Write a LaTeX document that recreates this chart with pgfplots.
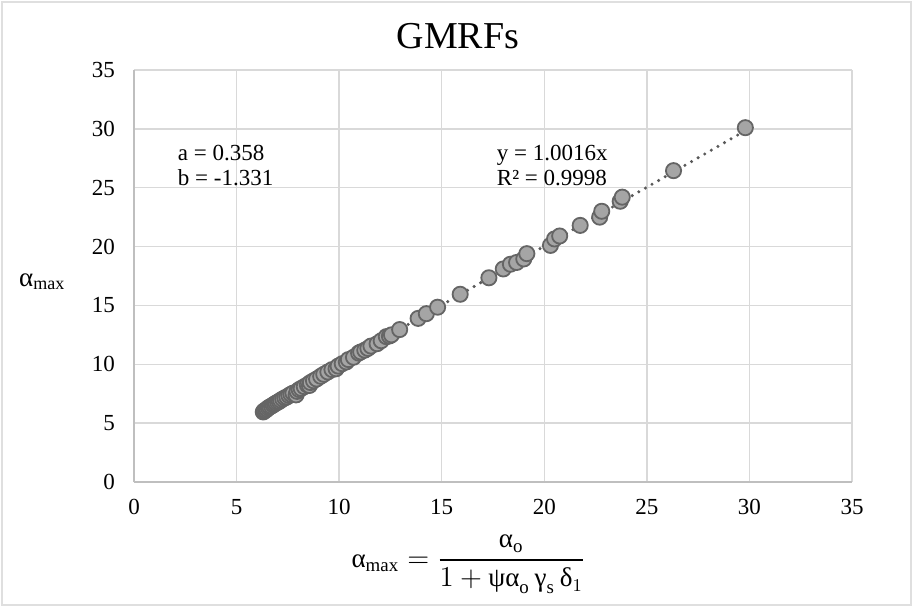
\documentclass[border=0pt]{standalone}
\usepackage{fontspec}
\setmainfont{Liberation Serif}
\usepackage{amsmath}
\usepackage{pgfplots}
\pgfplotsset{compat=1.18}

\definecolor{gridgray}{HTML}{D9D9D9}
\definecolor{axisgray}{HTML}{BFBFBF}
\definecolor{markfill}{HTML}{A5A5A5}
\definecolor{markdraw}{HTML}{656565}
\definecolor{trendcol}{HTML}{595959}

\begin{document}
\begin{tikzpicture}
\useasboundingbox (-67pt,-62.5pt) rectangle (389.5pt,241pt);
\draw[gray!25, line width=0.6pt] (-66pt,-61.5pt) rectangle (388.5pt,240pt);
\begin{axis}[
    at={(0,0)}, anchor=south west,
    width=359pt, height=206pt, scale only axis,
    xmin=0, xmax=35, ymin=0, ymax=35,
    xtick={0,5,...,35}, ytick={0,5,...,35},
    axis x line*=bottom, axis y line*=left,
    axis line style={-, draw=axisgray, line width=0.8pt},
    grid=major,
    grid style={draw=gridgray, line width=0.75pt},
    major tick length=0pt,
    tick style={draw=none},
    tick label style={font=\fontsize{11.5}{12}\selectfont},
    /pgf/number format/assume math mode=true,
    yticklabel style={xshift=-6pt},
    xticklabel style={yshift=-5pt},
    clip=false,
]

% measured points
\addplot[only marks, mark=*, mark size=3.8pt,
         mark options={fill=markfill, draw=markdraw, line width=0.9pt}]
coordinates {
 (6.30,5.95) (6.35,6.05) (6.42,6.10) (6.48,6.20) (6.55,6.30) (6.62,6.38)
 (6.70,6.45) (6.78,6.55) (6.85,6.62) (6.92,6.70) (7.00,6.78) (7.08,6.85)
 (7.15,6.95) (7.25,7.05) (7.35,7.15) (7.45,7.22) (7.55,7.35) (7.65,7.45)
 (7.75,7.55) (7.90,7.40) (7.95,7.70) (8.05,7.85) (8.15,7.95) (8.30,8.10)
 (8.45,8.25) (8.55,8.20) (8.60,8.45) (8.75,8.60) (8.90,8.75) (9.10,8.98)
 (9.25,9.15) (9.45,9.35) (9.65,9.55) (9.85,9.62) (9.95,9.85) (10.15,10.05)
 (10.35,10.20) (10.45,10.40) (10.70,10.60) (10.95,10.95) (11.05,11.05)
 (11.25,11.20) (11.40,11.35) (11.55,11.55) (11.85,11.75) (12.05,12.00)
 (12.30,12.35) (12.45,12.40) (12.55,12.50) (12.95,12.95) (13.85,13.90)
 (14.25,14.30) (14.80,14.85) (15.90,15.95) (17.30,17.35) (18.00,18.10)
 (18.35,18.50) (18.65,18.65) (19.00,18.95) (19.15,19.40) (20.30,20.10)
 (20.50,20.65) (20.75,20.90) (21.75,21.80) (22.70,22.50) (22.80,23.00)
 (23.70,23.85) (23.80,24.20) (26.30,26.45) (29.80,30.10)
};

% linear trend through origin, y = 1.0016x
\addplot[trendcol, line width=1.7pt, line cap=round,
         dash pattern=on 0pt off 3.8pt]
coordinates {(6.30,6.31) (29.80,29.85)};

\node[font=\fontsize{19}{22}\selectfont] at (rel axis cs:0.451,1.082) {GMRFs};

\node[anchor=west, align=left, font=\fontsize{11.5}{12.5}\selectfont]
    at (axis cs:1.8,26.9) {a = 0.358\\b = -1.331};
\node[anchor=west, align=left, font=\fontsize{11.5}{12.5}\selectfont]
    at (axis cs:17.35,26.9) {y = 1.0016x\\R² = 0.9998};

\node[font=\fontsize{13.5}{15}\selectfont] at (axis cs:-4.5,17)
    {α\raisebox{-0.2ex}{\fontsize{9}{10}\selectfont max}};

\node[font=\fontsize{13.5}{15}\selectfont] at (axis cs:16.3,-7.0)
    {$\text{α}_{\text{max}} = \dfrac{\text{α}_{\text{o}}}{1+\text{ψα}_{\text{o}}\,\text{γ}_{\text{s}}\,\text{δ}_{1}}$};

\end{axis}
\end{tikzpicture}
\end{document}
